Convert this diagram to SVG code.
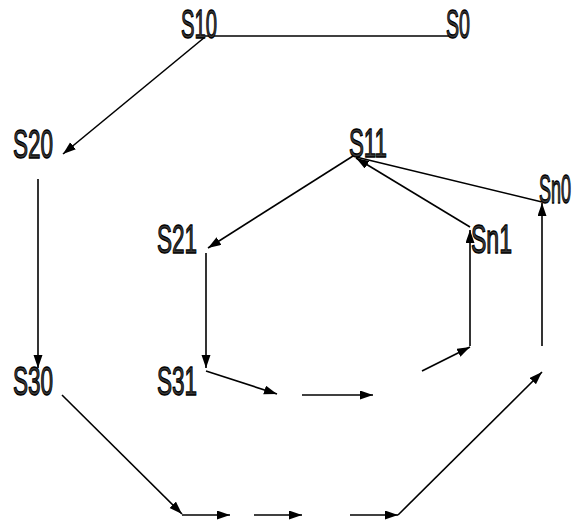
<svg xmlns="http://www.w3.org/2000/svg" width="578" height="521" viewBox="0 0 578 521">
  <defs>
    <marker id="arrow" markerUnits="userSpaceOnUse" markerWidth="14" markerHeight="10" refX="13" refY="4.5" orient="auto">
      <path d="M0,0 L13,4.5 L0,9 z" fill="#000"/>
    </marker>
    <style>
      .lbl { font-family: "Liberation Sans Narrow", "Liberation Sans", Arial, sans-serif; font-size: 40px; fill: #3a3a3a; stroke: #000; stroke-width: 1.3px; }
      .edge { stroke: #000; stroke-width: 1.6; fill: none; }
      .arr { marker-end: url(#arrow); }
    </style>
  </defs>
  <rect width="578" height="521" fill="#fff"/>

  <g id="connectors">
    <line class="edge" x1="205" y1="36" x2="449" y2="36"/>
    <line class="edge arr" x1="205" y1="37" x2="63" y2="154"/>
    <line class="edge arr" x1="38" y1="179" x2="38" y2="368"/>
    <line class="edge arr" x1="62" y1="395" x2="182" y2="514"/>
    <line class="edge arr" x1="182" y1="515" x2="230" y2="515"/>
    <line class="edge arr" x1="254" y1="515" x2="302" y2="515"/>
    <line class="edge arr" x1="350" y1="515" x2="398" y2="515"/>
    <line class="edge arr" x1="398" y1="515" x2="542" y2="372"/>
    <line class="edge arr" x1="542" y1="346" x2="542" y2="203"/>
    <line class="edge" x1="542" y1="202" x2="356" y2="157"/>
    <line class="edge arr" x1="353" y1="156" x2="208" y2="248"/>
    <line class="edge arr" x1="206" y1="253" x2="206" y2="368"/>
    <line class="edge arr" x1="206" y1="371" x2="277" y2="394"/>
    <line class="edge arr" x1="302" y1="395" x2="373" y2="395"/>
    <line class="edge arr" x1="422" y1="371" x2="470" y2="347"/>
    <line class="edge arr" x1="470" y1="346" x2="470" y2="230"/>
    <line class="edge arr" x1="470" y1="227" x2="356" y2="158"/>
  </g>

  <g id="S10"><text class="lbl" x="181" y="38" textLength="36" lengthAdjust="spacingAndGlyphs">S10</text></g>
  <g id="S0"><text class="lbl" x="446" y="38" textLength="24" lengthAdjust="spacingAndGlyphs">S0</text></g>
  <g id="S20"><text class="lbl" x="13" y="158" textLength="40" lengthAdjust="spacingAndGlyphs">S20</text></g>
  <g id="S11"><text class="lbl" x="349" y="157" textLength="38" lengthAdjust="spacingAndGlyphs">S11</text></g>
  <g id="Sn0"><text class="lbl" x="539" y="203" textLength="32" lengthAdjust="spacingAndGlyphs">Sn0</text></g>
  <g id="S21"><text class="lbl" x="157" y="253" textLength="40" lengthAdjust="spacingAndGlyphs">S21</text></g>
  <g id="Sn1"><text class="lbl" x="471" y="253" textLength="41" lengthAdjust="spacingAndGlyphs">Sn1</text></g>
  <g id="S30"><text class="lbl" x="13" y="395" textLength="40" lengthAdjust="spacingAndGlyphs">S30</text></g>
  <g id="S31"><text class="lbl" x="157" y="395" textLength="40" lengthAdjust="spacingAndGlyphs">S31</text></g>
</svg>
